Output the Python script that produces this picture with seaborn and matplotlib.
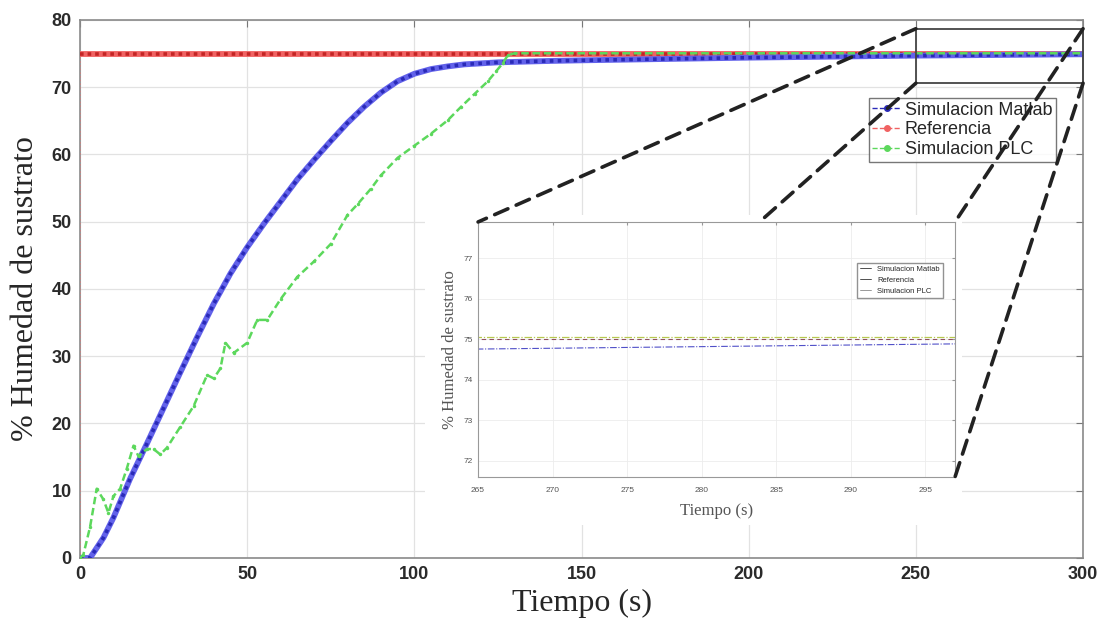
import numpy as np
import pandas as pd
import matplotlib.pyplot as plt
import seaborn as sns
from matplotlib.lines import Line2D
from matplotlib.patches import Rectangle, ConnectionPatch

# --- data ---
t_matlab = [0, 3, 5, 7, 10, 15, 20, 25, 30, 35, 40, 45, 50, 55, 60, 65, 70, 75, 80,
            85, 90, 95, 100, 105, 110, 115, 120, 125, 140, 150, 200, 250, 300]
y_matlab = [0, 0, 1.5, 3, 6, 11.8, 17, 22.3, 27.6, 32.8, 37.8, 42.3, 46.2, 49.7, 53,
            56.3, 59.2, 62.0, 64.7, 67.1, 69.2, 70.9, 72.0, 72.7, 73.1, 73.4, 73.55,
            73.7, 73.9, 74.0, 74.4, 74.7, 74.9]

t_ref = [0, 0, 300]
y_ref = [0, 75, 75]

t_plc = [0, 1, 3, 5, 7, 8.5, 10, 12, 14, 16, 17.5, 20, 22, 24, 26, 30, 34, 38, 40, 42,
         43.5, 46, 50, 53, 56, 60, 65, 70, 75, 80, 83, 87, 90, 95, 100, 105, 110, 114,
         118, 122, 124.5, 126.5, 128, 130, 200, 300]
y_plc = [0, 0.5, 4.6, 10.3, 8.7, 6.7, 9.2, 10.3, 13.3, 16.7, 15.1, 16.2, 16.2, 15.4,
         16.4, 19.5, 22.6, 27.2, 26.7, 28.2, 32, 30.5, 32, 35.4, 35.4, 38.5, 41.8, 44.1,
         46.7, 51, 52.6, 54.9, 56.9, 59.5, 61.3, 63.1, 65.1, 67.1, 69.0, 70.9, 72.4,
         73.6, 74.8, 75.05, 75.05, 75.05]

series_names = ["Simulacion Matlab", "Referencia", "Simulacion PLC"]
x_ticks = [0, 50, 100, 150, 200, 250, 300]
y_ticks = [0, 10, 20, 30, 40, 50, 60, 70, 80]
inset_x_ticks = [265, 270, 275, 280, 285, 290, 295]
inset_y_ticks = [72, 73, 74, 75, 76, 77]

df_matlab = pd.DataFrame({"t": t_matlab, "y": y_matlab})
df_ref = pd.DataFrame({"t": t_ref, "y": y_ref})
df_plc = pd.DataFrame({"t": t_plc, "y": y_plc})

blue, blue_dk = "#6262ea", "#2a2ab8"
red, red_dk = "#f06262", "#c42424"
green = "#5cd85c"

sns.set_style("white")
plt.rcParams["font.family"] = ["Liberation Sans", "DejaVu Sans"]

fig = plt.figure(figsize=(10.99, 6.32), dpi=100)
ax = fig.add_axes([0.0728, 0.1171, 0.9127, 0.8513])

line_kw = dict(x="t", y="y", sort=False, estimator=None, ax=ax)
# reference: thin dotted step, then thick dotted band at the setpoint
sns.lineplot(data=df_ref, color="#c88080", lw=1.2, linestyle=(0, (1, 1.2)),
             zorder=3, **line_kw)
sns.lineplot(data=df_ref.iloc[1:], color=red, lw=4.2, zorder=3, **line_kw)
sns.lineplot(data=df_ref.iloc[1:], color=red_dk, lw=2.6, linestyle=(0, (1, 1.1)),
             zorder=3, **line_kw)
# matlab simulation: dense dotted band
sns.lineplot(data=df_matlab, color=blue, lw=4.2, zorder=4, **line_kw)
sns.lineplot(data=df_matlab, color=blue_dk, lw=2.6, linestyle=(0, (1, 1.2)),
             zorder=4, **line_kw)
# plc simulation
sns.lineplot(data=df_plc, color=green, lw=1.8, linestyle=(0, (3, 1.5)), marker="o",
             markersize=2.5, markeredgewidth=0, zorder=5, **line_kw)

ax.set_xlim(0, 300)
ax.set_ylim(0, 80)
ax.set_xticks(x_ticks)
ax.set_yticks(y_ticks)
ax.grid(True, color="#e2e2e2", lw=0.9)
for s in ax.spines.values():
    s.set_color("#8a8a8a")
    s.set_linewidth(1.2)
ax.tick_params(direction="in", length=5, top=True, right=True, color="#777",
               labelsize=13, labelcolor="#2a2a2a", pad=6)
for lab in ax.get_xticklabels() + ax.get_yticklabels():
    lab.set_fontweight("bold")
ax.set_xlabel("Tiempo (s)", family="Liberation Serif", fontsize=23, labelpad=4)
ax.set_ylabel("% Humedad de sustrato", family="Liberation Serif", fontsize=23, labelpad=8)

handles = [Line2D([], [], color=c, lw=1, linestyle="--", marker="o", markersize=4)
           for c in (blue_dk, red, green)]
ax.legend(handles, series_names, loc="upper right", bbox_to_anchor=(0.973, 0.855),
          fontsize=13, frameon=True, edgecolor="#555", fancybox=False,
          handlelength=1.6, handletextpad=0.2, borderpad=0.2, labelspacing=0.15,
          borderaxespad=0)

# zoom box in the main axes
ax.add_patch(Rectangle((250, 70.6), 50, 8.1, fill=False, ec="#444", lw=1.3,
                       zorder=6, clip_on=False))

# white backing for the pasted inset
fig.add_artist(Rectangle((425 / 1099, 1 - 525 / 632), 537 / 1099, 310 / 632,
                         transform=fig.transFigure, fc="white", ec="none", zorder=1))

ax_in = fig.add_axes([0.435, 0.2453, 0.434, 0.4035])
ax_in.set_zorder(2)
in_kw = dict(x="t", y="y", sort=False, estimator=None, ax=ax_in)
sns.lineplot(data=df_matlab, color="#5050c8", lw=0.8, linestyle=(0, (6, 1.5, 1, 1.5)),
             **in_kw)
sns.lineplot(data=df_ref.iloc[1:], color="#905060", lw=0.8, linestyle=(0, (4, 3)),
             **in_kw)
sns.lineplot(data=df_plc, color="#b8c850", lw=0.9, linestyle=(0, (6, 1.5, 1, 1.5)),
             **in_kw)
ax_in.set_xlim(265, 297)
ax_in.set_ylim(71.6, 77.9)
ax_in.set_xticks(inset_x_ticks)
ax_in.set_yticks(inset_y_ticks)
ax_in.grid(True, color="#ececec", lw=0.6)
for s in ax_in.spines.values():
    s.set_color("#999")
    s.set_linewidth(0.8)
ax_in.tick_params(direction="in", length=2, top=True, right=True, color="#999",
                  labelsize=6, labelcolor="#555", pad=4)
ax_in.tick_params(axis="x", pad=7)
ax_in.set_xlabel("Tiempo (s)", family="Liberation Serif", fontsize=12, color="#555",
                 labelpad=7)
ax_in.set_ylabel("% Humedad de sustrato", family="Liberation Serif", fontsize=12,
                 color="#555", labelpad=4)
in_handles = [Line2D([], [], color=c, lw=0.6) for c in ("#333", "#333", "#888")]
ax_in.legend(in_handles, series_names, loc="upper right", bbox_to_anchor=(0.975, 0.84),
             fontsize=5.5, frameon=True, edgecolor="#777", fancybox=False,
             handlelength=1.5, borderpad=0.4, labelspacing=0.45, borderaxespad=0)

# dashed connector lines from the zoom box to the inset
connect = [((250, 78.7), (0, 1)), ((250, 70.6), (0.59, 1)),
           ((300, 78.7), (1, 1)), ((300, 70.6), (1, 0))]
for a, b in connect:
    con = ConnectionPatch(xyA=a, coordsA=ax.transData, xyB=b, coordsB=ax_in.transAxes,
                          color="#222", lw=2.6, linestyle=(0, (4, 2.5)), zorder=7)
    fig.add_artist(con)

fig.savefig("out.png", dpi=100)
